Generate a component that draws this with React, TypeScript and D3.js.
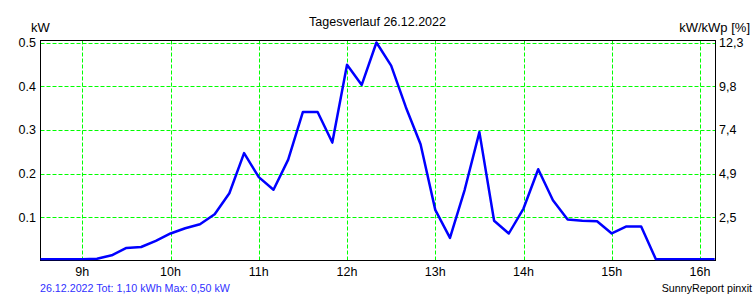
import React, { useEffect } from "react";
import * as d3 from "d3";

const times: string[] = [
  "08:30", "08:40", "08:50", "09:00", "09:10", "09:20", "09:30", "09:40", "09:50",
  "10:00", "10:10", "10:20", "10:30", "10:40", "10:50",
  "11:00", "11:10", "11:20", "11:30", "11:40", "11:50",
  "12:00", "12:10", "12:20", "12:30", "12:40", "12:50",
  "13:00", "13:10", "13:20", "13:30", "13:40", "13:50",
  "14:00", "14:10", "14:20", "14:30", "14:40", "14:50",
  "15:00", "15:10", "15:20", "15:30", "15:40", "15:50",
  "16:00", "16:10",
];

const powerKW: number[] = [
  0, 0, 0, 0.002, 0.005, 0.013, 0.03, 0.032, 0.046,
  0.063, 0.075, 0.084, 0.107, 0.155, 0.247,
  0.192, 0.163, 0.232, 0.341, 0.341, 0.271,
  0.449, 0.403, 0.5, 0.447, 0.352, 0.267,
  0.117, 0.053, 0.163, 0.295, 0.092, 0.063,
  0.12, 0.21, 0.139, 0.095, 0.092, 0.091,
  0.063, 0.079, 0.079, 0, 0, 0,
  0, 0,
];

const leftTicks: number[] = [0.1, 0.2, 0.3, 0.4, 0.5];
const leftTickLabels: string[] = ["0.1", "0.2", "0.3", "0.4", "0.5"];
const rightTickLabels: string[] = ["2,5", "4,9", "7,4", "9,8", "12,3"];
const hourTicks: number[] = [9, 10, 11, 12, 13, 14, 15, 16];

const title = "Tagesverlauf 26.12.2022";
const footerLeft = "26.12.2022 Tot: 1,10 kWh Max: 0,50 kW";
const footerRight = "SunnyReport pinxit";

const parseHour = (t: string) => {
  const [h, m] = t.split(":").map(Number);
  return h + m / 60;
};

export default function App() {
  useEffect(() => {
    document.body.style.margin = "0";
  }, []);

  const W = 756;
  const H = 300;
  const left = 40.5;
  const right = 715.5;
  const top = 40.5;
  const bottom = 260.5;

  const x = d3.scaleLinear().domain([9, 16]).range([82.3, 700]);
  const y = d3.scaleLinear().domain([0, 0.5]).range([261, 42.5]);

  const data = times.map((t, i) => ({ h: parseHour(t), v: powerKW[i] }));
  const line = d3
    .line<{ h: number; v: number }>()
    .x((d) => x(d.h))
    .y((d) => Math.min(y(d.v), 259.3));

  const font = "'Liberation Sans', Arial, sans-serif";
  const green = "#00ff00";

  return (
    <svg
      width={W}
      height={H}
      style={{ position: "fixed", left: 0, top: 0, background: "#fff" }}
      fontFamily={font}
    >
      <defs>
        <clipPath id="plotClip">
          <rect x={left} y={top - 3} width={right - left} height={bottom - top + 3} />
        </clipPath>
      </defs>
      <rect x={0} y={0} width={W} height={H} fill="#fff" />

      {/* grid */}
      {leftTicks.map((t) => (
        <line
          key={"gy" + t}
          x1={left}
          x2={right}
          y1={Math.round(y(t)) + 0.5}
          y2={Math.round(y(t)) + 0.5}
          stroke={green}
          strokeWidth={1}
          strokeDasharray="4,2"
        />
      ))}
      {hourTicks.map((h) => (
        <line
          key={"gx" + h}
          x1={Math.round(x(h)) + 0.5}
          x2={Math.round(x(h)) + 0.5}
          y1={top}
          y2={bottom}
          stroke={green}
          strokeWidth={1}
          strokeDasharray="4,2"
        />
      ))}

      {/* frame */}
      <rect x={left} y={top} width={right - left} height={bottom - top} fill="none" stroke="#000" strokeWidth={1} />

      {/* data line */}
      <path
        d={line(data) || ""}
        fill="none"
        stroke="#0000ff"
        strokeWidth={2.5}
        strokeLinejoin="round"
        clipPath="url(#plotClip)"
      />

      {/* left axis labels */}
      {leftTicks.map((t, i) => (
        <text key={"ly" + t} x={36} y={y(t)} dy="0.36em" textAnchor="end" fontSize={12.5} fill="#000">
          {leftTickLabels[i]}
        </text>
      ))}
      {/* right axis labels */}
      {leftTicks.map((t, i) => (
        <text key={"ry" + t} x={719} y={y(t)} dy="0.36em" textAnchor="start" fontSize={12.5} fill="#000">
          {rightTickLabels[i]}
        </text>
      ))}
      {/* x labels */}
      {hourTicks.map((h) => (
        <text key={"xl" + h} x={x(h)} y={276} textAnchor="middle" fontSize={12.5} fill="#000">
          {h + "h"}
        </text>
      ))}

      {/* units & title */}
      <text x={31} y={32} fontSize={13} fill="#000">kW</text>
      <text x={750} y={32} textAnchor="end" fontSize={13} fill="#000">kW/kWp [%]</text>
      <text x={377.5} y={26} textAnchor="middle" fontSize={12.5} fill="#000">{title}</text>

      {/* footer */}
      <text x={40} y={292} fontSize={10.7} fill="#3030ff">{footerLeft}</text>
      <text x={752} y={292} textAnchor="end" fontSize={10.7} fill="#000">{footerRight}</text>
    </svg>
  );
}
